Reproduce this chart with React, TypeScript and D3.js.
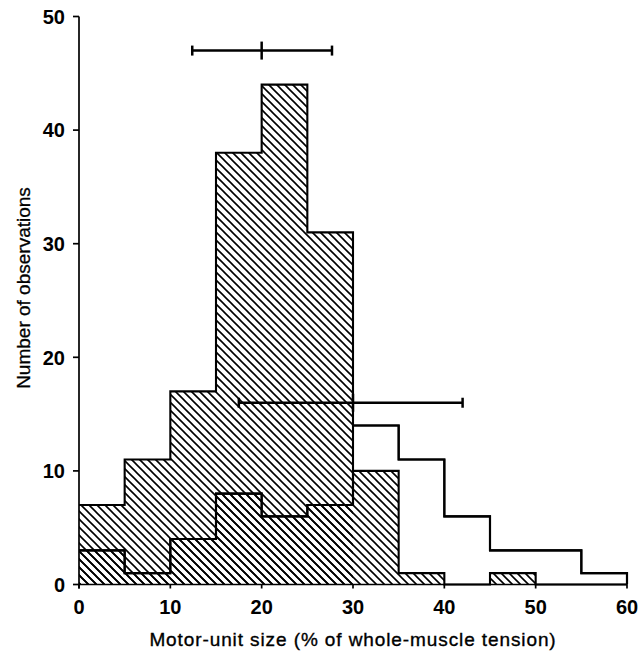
import React from "react";
import * as d3 from "d3";

// Bin edges (% of whole-muscle tension)
const binEdges = [0, 5, 10, 15, 20, 25, 30, 35, 40, 45, 50, 55, 60];
// Peaked (hatched) distribution
const peakedCounts = [7, 11, 17, 38, 44, 31, 0, 0, 0, 0, 0, 0];
// Broad distribution (open outline)
const broadCounts = [3, 1, 4, 8, 6, 7, 14, 11, 6, 3, 3, 1];
// Hatched part of the broad distribution
const broadHatchedCounts = [3, 1, 4, 8, 6, 7, 10, 1, 0, 1, 0, 0];

// Mean ± s.d. bars
const barMeans = [20, 30];
const barLows = [12.4, 17.5];
const barHighs = [27.7, 42];
const barLevels = [47, 16];

const xTicks = [0, 10, 20, 30, 40, 50, 60];
const yTicks = [0, 10, 20, 30, 40, 50];

const W = 639;
const H = 654;

export default function App() {
  const x = d3.scaleLinear().domain([0, 60]).range([79, 627]);
  const y = d3.scaleLinear().domain([0, 50]).range([584.5, 16.5]);

  const stepPoints = (counts: number[], drop = true): [number, number][] => {
    const pts: [number, number][] = counts.map((c, i) => [binEdges[i], c]);
    pts.push([binEdges[counts.length], counts[counts.length - 1]]);
    if (drop) pts.push([binEdges[counts.length], 0]);
    return pts;
  };

  const line = d3
    .line<[number, number]>()
    .x((d) => x(d[0]))
    .y((d) => y(d[1]))
    .curve(d3.curveStepAfter);

  const area = d3
    .area<[number, number]>()
    .x((d) => x(d[0]))
    .y0(y(0))
    .y1((d) => y(d[1]))
    .curve(d3.curveStepAfter);

  const envelope = peakedCounts.map((c, i) => Math.max(c, broadCounts[i]));

  const font = "'Liberation Sans', Arial, Helvetica, sans-serif";

  return (
    <svg
      width={W}
      height={H}
      style={{ position: "absolute", left: 0, top: 0, background: "#fff" }}
      fontFamily={font}
    >
      <defs>
        <pattern id="hatch" patternUnits="userSpaceOnUse" width={8} height={8}>
          <path
            d="M-2,-2 L10,10 M-6,2 L2,10 M6,-2 L10,2"
            stroke="#000"
            strokeWidth={1.6}
            fill="none"
          />
        </pattern>
      </defs>
      <rect x={0} y={0} width={W} height={H} fill="#fff" />

      {/* hatched areas */}
      <path d={area(stepPoints(peakedCounts, false)) || ""} fill="url(#hatch)" />
      <path d={area(stepPoints(broadHatchedCounts, false)) || ""} fill="url(#hatch)" />

      {/* outlines */}
      <g fill="none" stroke="#000" strokeWidth={2.1}>
        <path d={line(stepPoints(envelope)) || ""} />
        <path d={line(stepPoints(broadCounts)) || ""} />
        <path d={line(stepPoints(broadHatchedCounts)) || ""} />
      </g>

      {/* y axis */}
      <g stroke="#000" strokeWidth={1.7}>
        <line x1={x(0)} x2={x(0)} y1={y(0) + 4} y2={y(50)} />
        {yTicks.map((t) => (
          <line key={t} x1={x(0) - 6} x2={x(0)} y1={y(t)} y2={y(t)} />
        ))}
      </g>
      {yTicks.map((t) => (
        <text
          key={t}
          x={x(0) - 14}
          y={y(t)}
          dy="0.36em"
          textAnchor="end"
          fontSize={20}
          fontWeight="bold"
        >
          {t}
        </text>
      ))}

      {/* x axis */}
      <g stroke="#000" strokeWidth={1.7}>
        <line x1={x(0)} x2={x(60)} y1={y(0)} y2={y(0)} />
        {xTicks.map((t) => (
          <line key={t} x1={x(t)} x2={x(t)} y1={y(0)} y2={y(0) + 4} />
        ))}
      </g>
      {xTicks.map((t) => (
        <text
          key={t}
          x={x(t)}
          y={607}
          dy="0.36em"
          textAnchor="middle"
          fontSize={20}
          fontWeight="bold"
        >
          {t}
        </text>
      ))}

      {/* error bars */}
      <g stroke="#000" strokeWidth={2.5}>
        {barMeans.map((m, i) => (
          <g key={i}>
            <line x1={x(barLows[i])} x2={x(barHighs[i])} y1={y(barLevels[i])} y2={y(barLevels[i])} />
            <line x1={x(barLows[i])} x2={x(barLows[i])} y1={y(barLevels[i]) - 5} y2={y(barLevels[i]) + 5} />
            <line x1={x(barHighs[i])} x2={x(barHighs[i])} y1={y(barLevels[i]) - 5} y2={y(barLevels[i]) + 5} />
            <line x1={x(m)} x2={x(m)} y1={y(barLevels[i]) - 9} y2={y(barLevels[i]) + 9} />
          </g>
        ))}
      </g>

      {/* axis titles */}
      <text
        x={353}
        y={646}
        textAnchor="middle"
        fontSize={19}
        letterSpacing={0.9}
        stroke="#000"
        strokeWidth={0.35}
      >
        Motor-unit size (% of whole-muscle tension)
      </text>
      <text
        transform={`translate(23,${288}) rotate(-90)`}
        textAnchor="middle"
        dy="0.36em"
        fontSize={19}
        stroke="#000"
        strokeWidth={0.3}
      >
        Number of observations
      </text>
    </svg>
  );
}
